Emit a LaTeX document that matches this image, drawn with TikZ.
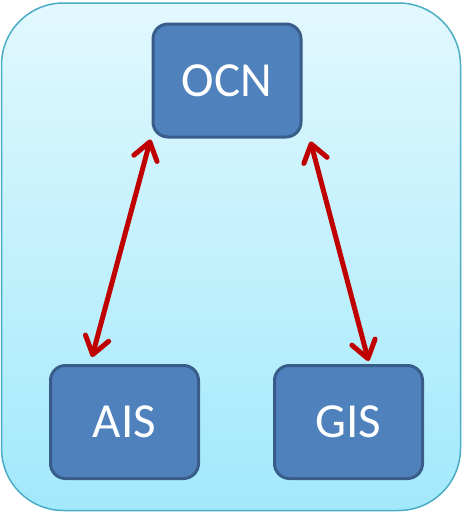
\documentclass[tikz,border=0pt]{standalone}
\usepackage{fontspec}
\setmainfont{Carlito}
\usepackage{tikz}
\usetikzlibrary{arrows.meta}

\definecolor{panelline}{HTML}{4BACC6}
\definecolor{paneltop}{HTML}{E2F8FE}
\definecolor{panelbottom}{HTML}{A2E9FB}
\definecolor{unitfill}{HTML}{4F81BD}
\definecolor{unitline}{HTML}{385D8A}
\definecolor{linkred}{HTML}{C00000}

\begin{document}
\begin{tikzpicture}[x=1pt,y=-1pt,
    unit/.style={draw=unitline, fill=unitfill, line width=3pt, rounded corners=15pt,
      minimum width=148pt, minimum height=113pt, inner sep=0pt,
      text=white, font=\fontsize{49}{49}\selectfont},
    link/.style={draw=linkred, line width=5pt, line cap=round,
      {Straight Barb[length=17pt,width=24pt,line cap=round,line join=round]}-{Straight Barb[length=17pt,width=24pt,line cap=round,line join=round]}}]
    \useasboundingbox (0,0) rectangle (462,514);
    % panel
    \shade[top color=paneltop, bottom color=panelbottom, draw=panelline, line width=1.5pt,
      rounded corners=62pt] (1.5,3) rectangle (460.5,510.5);

    % units
    \node [unit] (ocn) at (227,80.5) {OCN};
    \node [unit] (ais) at (124.5,422) {AIS};
    \node [unit] (gis) at (348.5,422) {GIS};

    % links
    \draw [link] ([xshift=-1pt,yshift=-1pt]ocn.south west) -- ([xshift=43pt,yshift=7pt]ais.north west);
    \draw [link] ([xshift=8pt,yshift=-3pt]ocn.south east) -- ([xshift=20pt,yshift=3pt]gis.north);
\end{tikzpicture}
\end{document}
